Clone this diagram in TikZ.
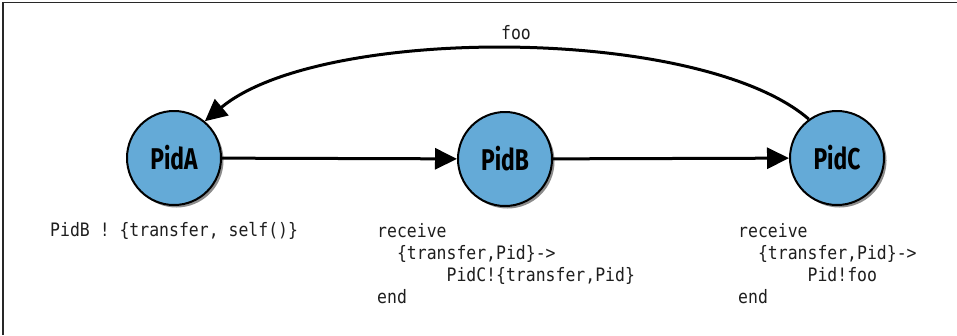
\documentclass[tikz,border=0pt]{standalone}
\usepackage{fontspec}
\usetikzlibrary{arrows.meta,shadows}
\newfontfamily\monofont{DejaVu Sans Mono}[FakeStretch=0.89]
\newfontfamily\labelfont{Fira Sans}[FakeStretch=0.76]
\definecolor{pidblue}{RGB}{100,170,215}
\definecolor{frame}{RGB}{40,40,40}
\definecolor{codetext}{RGB}{30,30,30}
\tikzset{
  pid/.style={circle, draw=black, line width=2pt, fill=pidblue, minimum size=94pt, inner sep=0pt,
    font=\labelfont\bfseries\fontsize{30}{32}\selectfont,
    drop shadow={shadow xshift=2.5pt, shadow yshift=-2.5pt, opacity=0.45, fill=black}},
  msg/.style={line width=3pt, -{Triangle[length=22pt,width=21pt]}},
  code/.style={font=\monofont\fontsize{18.5}{22}\selectfont, text=codetext, inner sep=0pt, align=left},
}
\begin{document}
\begin{tikzpicture}[x=1pt,y=-1pt]
\useasboundingbox (0,0) rectangle (957,335);
\draw[frame, line width=1.5pt] (3,335) -- (3,2.5) -- (957,2.5);
\node[pid] (A) at (174,158) {PidA};
\node[pid] (B) at (505,159) {PidB};
\node[pid] (C) at (837,158) {PidC};
\draw[msg] (A) -- (B);
\draw[msg] (B) -- (C);
\draw[msg] (C.126) .. controls (700,25) and (320,25) .. (A.50);
\node[code, anchor=base] (foo) at (516,39) {foo};
\node[code, anchor=base west] (sendA) at (50,236) {PidB ! \{transfer, self()\}};
\node[code, anchor=base west] (recvB) at (377,303) {receive\\
\phantom{xx}\{transfer,Pid\}->\\
\phantom{xxxxxxx}PidC!\{transfer,Pid\}\\
end};
\node[code, anchor=base west] (recvC) at (738,303) {receive\\
\phantom{xx}\{transfer,Pid\}->\\
\phantom{xxxxxxx}Pid!foo\\
end};
\end{tikzpicture}
\end{document}
